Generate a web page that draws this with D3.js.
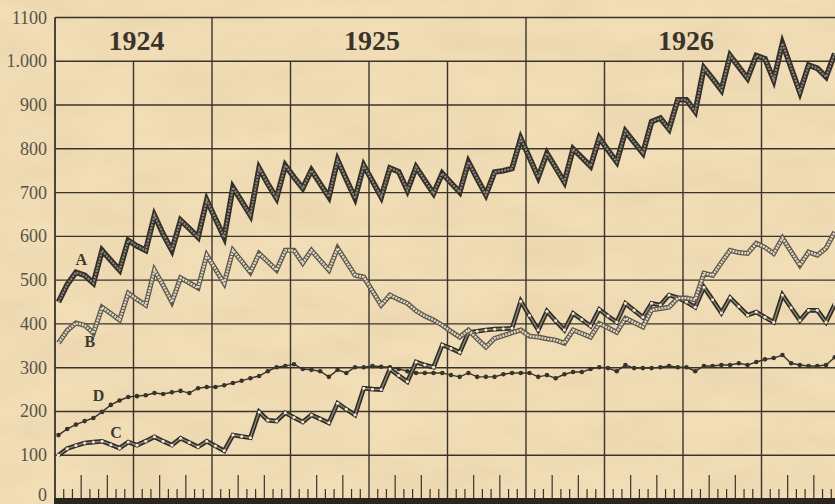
<!DOCTYPE html>
<html>
<head>
<meta charset="utf-8">
<script src="https://cdn.jsdelivr.net/npm/d3@7"></script>
<style>
  html, body { margin: 0; padding: 0; background: #f0dcb4; }
  svg { display: block; }
</style>
</head>
<body>
<script>
// one value per ten-day period (dekad), July 1924 .. December 1926
var seriesA = [450, 490, 518, 511, 493, 568, 545, 523, 591, 578,
  568, 648, 605, 568, 637, 618, 598, 683, 640, 598,
  712, 680, 648, 756, 720, 687, 762, 735, 710, 751,
  720, 690, 774, 730, 687, 762, 726, 690, 756, 748,
  705, 758, 728, 698, 744, 722, 701, 770, 732, 695,
  747, 750, 755, 824, 780, 735, 790, 757, 724, 800,
  780, 760, 825, 797, 770, 840, 815, 790, 862, 870,
  845, 912, 912, 885, 985, 960, 934, 1013, 987, 961,
  1013, 1006, 957, 1041, 985, 929, 991, 984, 964, 1018];

var seriesB = [356, 385, 402, 397, 379, 438, 424, 409, 470, 456,
  443, 523, 488, 450, 505, 494, 482, 557, 525, 493,
  568, 543, 518, 561, 542, 523, 568, 568, 539, 568,
  545, 523, 573, 542, 511, 507, 475, 443, 466, 456,
  447, 430, 418, 409, 397, 383, 370, 386, 366, 347,
  367, 373, 380, 386, 372, 370, 366, 363, 356, 386,
  378, 370, 401, 391, 381, 413, 403, 393, 432, 435,
  438, 459, 459, 455, 516, 511, 540, 568, 563, 561,
  584, 575, 561, 596, 565, 534, 564, 557, 573, 610];

var seriesC = [100, 115, 122, 128, 130, 132, 124, 116, 130, 123,
  132, 142, 132, 123, 139, 129, 119, 132, 121, 110,
  146, 143, 140, 199, 180, 178, 197, 186, 176, 192,
  183, 174, 219, 205, 192, 253, 251, 250, 297, 282,
  268, 313, 306, 301, 352, 344, 335, 380, 383, 386,
  388, 389, 390, 452, 419, 386, 429, 407, 386, 424,
  410, 395, 433, 418, 404, 447, 431, 415, 447, 443,
  466, 460, 450, 438, 484, 455, 425, 460, 440, 420,
  427, 415, 404, 466, 437, 408, 431, 431, 404, 445];

var seriesD = [146, 160, 170, 178, 185, 199, 215, 225, 233, 235,
  237, 242, 240, 244, 247, 242, 253, 256, 256, 260,
  265, 270, 276, 281, 292, 301, 304, 308, 297, 295,
  292, 279, 295, 288, 301, 301, 304, 302, 301, 297,
  292, 288, 288, 288, 288, 283, 279, 288, 279, 279,
  279, 285, 288, 288, 288, 279, 283, 276, 285, 290,
  290, 297, 301, 299, 292, 306, 299, 299, 299, 301,
  304, 301, 301, 292, 304, 304, 306, 306, 310, 306,
  313, 319, 322, 329, 310, 306, 304, 304, 306, 324];

var years = ["1924", "1925", "1926"];
var yearStart = [0, 18, 54];   // dekad where each year begins on the chart
var yearEnd = [18, 54, 90];

var yTicks = [0, 100, 200, 300, 400, 500, 600, 700, 800, 900, 1000, 1100];
var yTickLabels = ["0", "100", "200", "300", "400", "500", "600", "700", "800", "900", "1.000", "1100"];

var seriesNames = ["A", "B", "C", "D"];
var labelAt = [[3, 535], [4, 347], [7, 140], [5, 225]];  // [dekad, value] where letters sit

var width = 835, height = 504;
var ink = "#38342b";

var x = d3.scaleLinear().domain([0, 90]).range([55, 840]);
var y = d3.scaleLinear().domain([0, 1100]).range([499, 17.5]);

var svg = d3.select("body").append("svg")
    .attr("width", width)
    .attr("height", height);

// paper mottling
var defs = svg.append("defs");
var f = defs.append("filter").attr("id", "paper").attr("x", 0).attr("y", 0).attr("width", "100%").attr("height", "100%");
f.append("feTurbulence").attr("type", "fractalNoise").attr("baseFrequency", "0.012 0.03").attr("numOctaves", 3).attr("seed", 7);
f.append("feColorMatrix").attr("values", "0 0 0 0 0.62  0 0 0 0 0.48  0 0 0 0 0.28  0 0 0 0.9 -0.3");

svg.append("rect").attr("width", width).attr("height", height).attr("fill", "#f1ddb6");
svg.append("rect").attr("width", width).attr("height", height).attr("filter", "url(#paper)").attr("opacity", 0.35);

var grid = svg.append("g").attr("stroke", ink).attr("stroke-width", 1.4).attr("fill", "none");

// horizontal rules
grid.selectAll("line.h").data(yTicks.filter(function(d) { return d > 0; }))
  .enter().append("line")
    .attr("x1", x(0)).attr("x2", width)
    .attr("y1", function(d) { return y(d); })
    .attr("y2", function(d) { return y(d); });

// quarter rules below the year band
var quarters = d3.range(9, 90, 9);
grid.selectAll("line.q").data(quarters)
  .enter().append("line")
    .attr("x1", function(d) { return x(d); })
    .attr("x2", function(d) { return x(d); })
    .attr("y1", function(d) { return yearStart.indexOf(d) >= 0 ? y(1100) : y(1000); })
    .attr("y2", y(0));

// left edge
grid.append("line").attr("x1", x(0)).attr("x2", x(0)).attr("y1", y(1100)).attr("y2", y(0)).attr("stroke-width", 1.8);

// dekad ticks on the base line
var ticks = d3.range(1, 90).filter(function(d) { return d % 9 != 0; });
grid.selectAll("line.t").data(ticks)
  .enter().append("line")
    .attr("x1", function(d) { return x(d); })
    .attr("x2", function(d) { return x(d); })
    .attr("y1", y(0))
    .attr("y2", function(d) { return d % 3 == 0 ? y(0) - 24 : y(0) - 10; })
    .attr("stroke-width", 1.2);

// base line
svg.append("rect").attr("x", x(0) - 1).attr("y", y(0) - 1).attr("width", width).attr("height", 6).attr("fill", "#2a2720");

// y labels
svg.selectAll("text.ylab").data(yTicks)
  .enter().append("text")
    .attr("x", 47)
    .attr("y", function(d) { return Math.min(y(d) + 6, 501); })
    .attr("text-anchor", "end")
    .attr("font-family", "'Liberation Serif', 'DejaVu Serif', serif")
    .attr("font-size", 18)
    .attr("fill", "#5a5444")
    .text(function(d, i) { return yTickLabels[i]; });

// year headings
svg.selectAll("text.year").data(years)
  .enter().append("text")
    .attr("x", function(d, i) { return (x(yearStart[i]) + x(yearEnd[i])) / 2 + 3; })
    .attr("y", 50)
    .attr("text-anchor", "middle")
    .attr("font-family", "'Liberation Serif', 'DejaVu Serif', serif")
    .attr("font-weight", "bold")
    .attr("font-size", 28)
    .attr("fill", ink)
    .text(function(d) { return d; });

function line(values) {
  return d3.line()
    .x(function(d, i) { return x(i + 0.4); })
    .y(function(d) { return y(d); })(values);
}

function doubleLine(values, outer, outerW, inner, innerW, dash) {
  svg.append("path").attr("d", line(values))
    .attr("fill", "none").attr("stroke", outer).attr("stroke-width", outerW)
    .attr("stroke-linejoin", "miter").attr("stroke-miterlimit", 6);
  svg.append("path").attr("d", line(values))
    .attr("fill", "none").attr("stroke", inner).attr("stroke-width", innerW)
    .attr("stroke-dasharray", dash)
    .attr("stroke-linejoin", "miter").attr("stroke-miterlimit", 6);
}

// D: thin line with dots
svg.append("path").attr("d", line(seriesD))
  .attr("fill", "none").attr("stroke", ink).attr("stroke-width", 1.4);
svg.selectAll("circle.d").data(seriesD)
  .enter().append("circle")
    .attr("cx", function(d, i) { return x(i + 0.4); })
    .attr("cy", function(d) { return y(d); })
    .attr("r", 2.3)
    .attr("fill", ink);

// C: dark double line with white dots
doubleLine(seriesC, "#2f2c25", 4.6, "#8d877a", 1.4, null);
svg.selectAll("circle.c").data(seriesC)
  .enter().append("circle")
    .attr("cx", function(d, i) { return x(i + 0.4); })
    .attr("cy", function(d) { return y(d); })
    .attr("r", 1.5)
    .attr("fill", "#f4ead4");

// B: light hollow line
doubleLine(seriesB, "#5d594f", 5, "#e4dac4", 2.4, "2 1");

// A: heavy dark line
doubleLine(seriesA, "#35312a", 5.6, "#8f897d", 2, "2 1.2");

// series letters
svg.selectAll("text.ser").data(seriesNames)
  .enter().append("text")
    .attr("x", function(d, i) { return x(labelAt[i][0]); })
    .attr("y", function(d, i) { return y(labelAt[i][1]); })
    .attr("text-anchor", "middle")
    .attr("font-family", "'Liberation Serif', 'DejaVu Serif', serif")
    .attr("font-weight", "bold")
    .attr("font-size", 16)
    .attr("fill", "#3e3a31")
    .text(function(d) { return d; });
</script>
</body>
</html>
